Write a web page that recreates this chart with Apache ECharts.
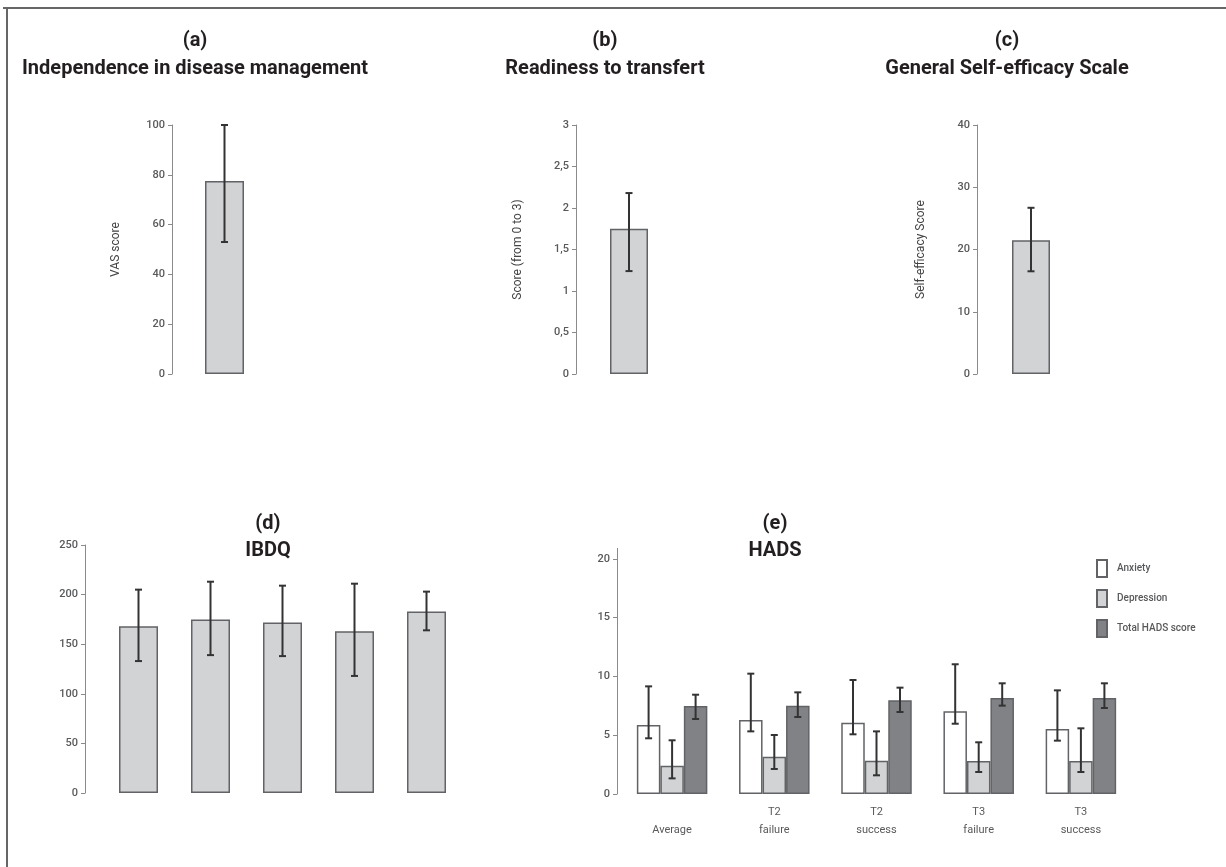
<!DOCTYPE html>
<html>
<head>
<meta charset="utf-8">
<script src="https://cdn.jsdelivr.net/npm/echarts@6/dist/echarts.min.js"></script>
<style>
  html, body { margin: 0; padding: 0; background: #fff; }
  #main { width: 1226px; height: 867px; }
</style>
</head>
<body>
<div id="main"></div>
<script>
// (a) independence VAS
const vasMean = [77.5];
const vasErr = [[53, 100]];
// (b) readiness to transfer
const readyMean = [1.75];
const readyErr = [[1.24, 2.18]];
// (c) self-efficacy
const gseMean = [21.5];
const gseErr = [[16.5, 26.7]];
// (d) IBDQ
const ibdqCats = ['1', '2', '3', '4', '5'];
const ibdqMean = [168, 175, 172, 163, 183];
const ibdqErr = [[133, 205], [139, 213], [138, 209], [118, 211], [164, 203]];
// (e) HADS
const hadsCats = ['\nAverage', 'T2\nfailure', 'T2\nsuccess', 'T3\nfailure', 'T3\nsuccess'];
const anxietyMean = [5.87, 6.3, 6.07, 7.04, 5.53];
const anxietyErr = [[4.74, 9.16], [5.33, 10.24], [5.08, 9.7], [5.98, 11.04], [4.54, 8.82]];
const depressionMean = [2.41, 3.18, 2.84, 2.81, 2.81];
const depressionErr = [[1.33, 4.57], [2.13, 5.02], [1.59, 5.33], [1.87, 4.4], [1.87, 5.59]];
const totalMean = [7.49, 7.52, 7.97, 8.17, 8.17];
const totalErr = [[6.38, 8.45], [6.55, 8.65], [6.98, 9.05], [7.52, 9.42], [7.32, 9.42]];
const hadsTicks = [0, 5, 10, 15, 20];

const FONT = 'Roboto';
const lightFill = '#d1d3d4';
const darkFill = '#808285';
const edge = '#626366';

~function () {
  let myChart = echarts.init(document.getElementById('main'));

  function errSeries(name, gridIdx, errs, offset) {
    return {
      name: name,
      type: 'custom',
      xAxisIndex: gridIdx,
      yAxisIndex: gridIdx,
      z: 10,
      silent: true,
      encode: { x: 0, y: [1, 2] },
      data: errs.map((e, i) => [i, e[0], e[1]]),
      renderItem: function (params, api) {
        let lo = api.coord([api.value(0), api.value(1)]);
        let hi = api.coord([api.value(0), api.value(2)]);
        let x = lo[0] + offset;
        let cap = 3.5;
        let st = { stroke: '#333', lineWidth: 2 };
        return {
          type: 'group',
          children: [
            { type: 'line', shape: { x1: x, y1: lo[1], x2: x, y2: hi[1] }, style: st },
            { type: 'line', shape: { x1: x - cap, y1: lo[1], x2: x + cap, y2: lo[1] }, style: st },
            { type: 'line', shape: { x1: x - cap, y1: hi[1], x2: x + cap, y2: hi[1] }, style: st }
          ]
        };
      }
    };
  }

  function valAxis(gridIdx, min, max, interval, name, nameGap, extra) {
    return Object.assign({
      type: 'value',
      gridIndex: gridIdx,
      min: min,
      max: max,
      interval: interval,
      name: name,
      nameLocation: 'middle',
      nameGap: nameGap,
      nameTextStyle: { fontFamily: FONT, fontSize: 12, color: '#444' },
      axisLine: { show: true, lineStyle: { color: '#8a8a8a', width: 1 } },
      axisTick: { show: true, length: 4, lineStyle: { color: '#8a8a8a' } },
      axisLabel: { fontFamily: FONT, fontSize: 11, fontWeight: 500, color: '#58595b', margin: 7 },
      splitLine: { show: false }
    }, extra || {});
  }

  function catAxis(gridIdx, data, showLabel) {
    return {
      type: 'category',
      gridIndex: gridIdx,
      data: data,
      axisLine: { show: false },
      axisTick: { show: false },
      axisLabel: {
        show: !!showLabel, fontFamily: FONT, fontSize: 11, color: '#58595b',
        margin: 9, lineHeight: 18
      }
    };
  }

  function barItem(fill) {
    return { color: fill, borderColor: edge, borderWidth: 1.5 };
  }

  function title(x, y, text, size) {
    return {
      type: 'text', x: x, y: y,
      style: {
        text: text, fontFamily: FONT, fontSize: size, fontWeight: 'bold',
        fill: '#231f20', align: 'center', verticalAlign: 'middle'
      }
    };
  }

  let option = {
    animation: false,
    backgroundColor: '#fff',
    graphic: [
      { type: 'line', shape: { x1: 3, y1: 8, x2: 1226, y2: 8 }, style: { stroke: '#666', lineWidth: 2 } },
      { type: 'line', shape: { x1: 7, y1: 8, x2: 7, y2: 867 }, style: { stroke: '#666', lineWidth: 2 } },
      title(195, 41, '(a)', 20),
      title(195, 69, 'Independence in disease management', 20),
      title(605, 41, '(b)', 20),
      title(605, 69, 'Readiness to transfert', 20),
      title(1007, 41, '(c)', 20),
      title(1007, 69, 'General Self-efficacy Scale', 20),
      title(268, 524, '(d)', 20),
      title(268, 551, 'IBDQ', 20),
      title(775, 524, '(e)', 20),
      title(775, 551, 'HADS', 20)
    ],
    legend: {
      orient: 'vertical',
      left: 1096,
      top: 559,
      padding: 0,
      itemWidth: 10,
      itemHeight: 17,
      itemGap: 11,
      icon: 'rect',
      data: ['Anxiety', 'Depression', 'Total HADS score'],
      textStyle: { fontFamily: FONT, fontSize: 10, fontWeight: 500, color: '#58595b', padding: [0, 0, 0, 5] }
    },
    grid: [
      { left: 172, top: 125, width: 105, height: 249 },
      { left: 576, top: 125, width: 106, height: 249 },
      { left: 977, top: 125, width: 108, height: 249 },
      { left: 102.5, top: 545, width: 360, height: 248 },
      { left: 621, top: 548.4, width: 511, height: 245.6 }
    ],
    xAxis: [
      catAxis(0, ['a']),
      catAxis(1, ['b']),
      catAxis(2, ['c']),
      catAxis(3, ibdqCats),
      catAxis(4, hadsCats, true)
    ],
    yAxis: [
      valAxis(0, 0, 100, 20, 'VAS score', 50),
      valAxis(1, 0, 3, 0.5, 'Score (from 0 to 3)', 52, {
        axisLabel: {
          fontFamily: FONT, fontSize: 11, fontWeight: 500, color: '#58595b', margin: 7,
          formatter: v => String(v).replace('.', ',')
        }
      }),
      valAxis(2, 0, 40, 10, 'Self-efficacy Score', 50),
      valAxis(3, 0, 250, 50, '', 0, { offset: 17.5 }),
      valAxis(4, 0, 20.9, 5, '', 0, {
        offset: 4,
        axisTick: { show: true, length: 4, lineStyle: { color: '#8a8a8a' }, customValues: hadsTicks },
        axisLabel: { fontFamily: FONT, fontSize: 11, fontWeight: 500, color: '#58595b', margin: 7, customValues: hadsTicks }
      })
    ],
    series: [
      { type: 'bar', xAxisIndex: 0, yAxisIndex: 0, data: vasMean, barWidth: 39, itemStyle: barItem(lightFill) },
      errSeries('vasErr', 0, vasErr, 0),
      { type: 'bar', xAxisIndex: 1, yAxisIndex: 1, data: readyMean, barWidth: 38, itemStyle: barItem(lightFill) },
      errSeries('readyErr', 1, readyErr, 0),
      { type: 'bar', xAxisIndex: 2, yAxisIndex: 2, data: gseMean, barWidth: 38, itemStyle: barItem(lightFill) },
      errSeries('gseErr', 2, gseErr, 0),
      { type: 'bar', xAxisIndex: 3, yAxisIndex: 3, data: ibdqMean, barWidth: 39, itemStyle: barItem(lightFill) },
      errSeries('ibdqErr', 3, ibdqErr, 0),
      {
        name: 'Anxiety', type: 'bar', xAxisIndex: 4, yAxisIndex: 4, data: anxietyMean,
        barWidth: 23.5, barGap: '0%', itemStyle: barItem('#ffffff')
      },
      {
        name: 'Depression', type: 'bar', xAxisIndex: 4, yAxisIndex: 4, data: depressionMean,
        barWidth: 23.5, barGap: '0%', itemStyle: barItem(lightFill)
      },
      {
        name: 'Total HADS score', type: 'bar', xAxisIndex: 4, yAxisIndex: 4, data: totalMean,
        barWidth: 23.5, barGap: '0%', itemStyle: barItem(darkFill)
      },
      errSeries('anxErr', 4, anxietyErr, -23.5),
      errSeries('depErr', 4, depressionErr, 0),
      errSeries('totErr', 4, totalErr, 23.5)
    ]
  };
  myChart.setOption(option);
}();
</script>
</body>
</html>
